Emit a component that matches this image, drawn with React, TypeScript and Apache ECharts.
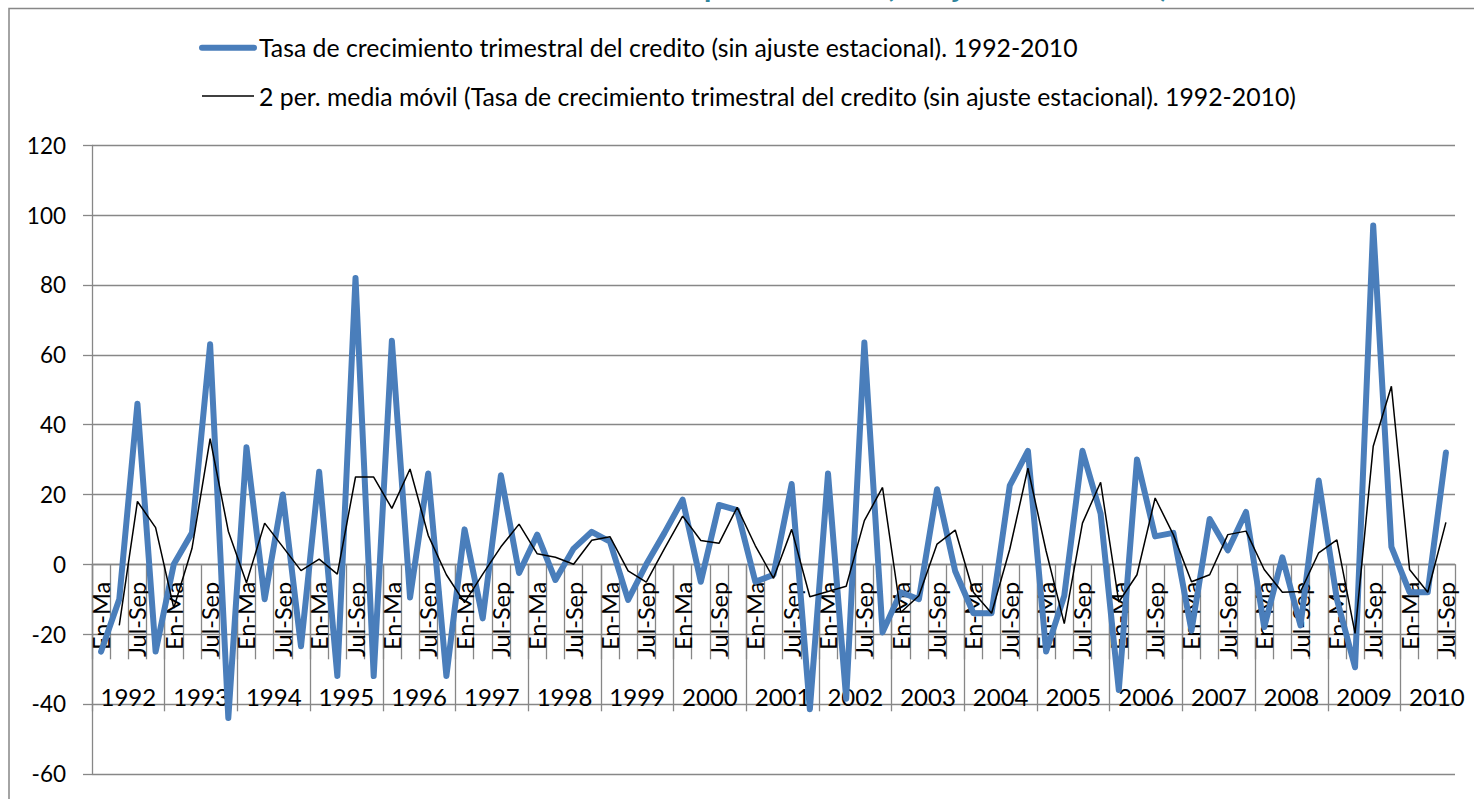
import React, { useEffect, useRef } from "react";
import * as echarts from "echarts";

// ---------- data ----------
const quarterNames = ["En-Ma", "Abr-Jun", "Jul-Sep", "Oct-Dic"];
const years = [
  "1992", "1993", "1994", "1995", "1996", "1997", "1998", "1999", "2000", "2001",
  "2002", "2003", "2004", "2005", "2006", "2007", "2008", "2009", "2010",
];
const quartersPerYear = [4, 4, 4, 4, 4, 4, 4, 4, 4, 4, 4, 4, 4, 4, 4, 4, 4, 4, 3];

const creditGrowth = [
  -25, -10, 46, -25,
  0, 9, 63, -44,
  33.5, -10, 20, -23.5,
  26.5, -32, 82, -32,
  64, -9.5, 26, -32,
  10, -15.5, 25.5, -2.5,
  8.5, -4.5, 4.5, 9.3,
  6.5, -10.2, 0, 9,
  18.5, -5, 17, 15.5,
  -5, -3, 23, -41.5,
  26, -38.5, 63.5, -19.5,
  -8, -10, 21.5, -2,
  -14, -14, 22.5, 32.5,
  -25, -9, 32.5, 14.5,
  -36, 30, 8, 9,
  -19, 13, 4, 15,
  -18, 2, -17.5, 24,
  -10, -29.5, 97, 5,
  -8, -8, 32,
];

const movingAvg = [
  null, -17.5, 18, 10.5,
  -12.5, 4.5, 36, 9.5,
  -5.3, 11.8, 5, -1.8,
  1.5, -2.8, 25, 25,
  16, 27.3, 8.3, -3,
  -11, -2.8, 5, 11.5,
  3, 2, 0, 6.9,
  7.9, -1.9, -5.1, 4.5,
  13.8, 6.8, 6, 16.3,
  5.3, -4, 10, -9.3,
  -7.8, -6.3, 12.5, 22,
  -13.8, -9, 5.8, 9.8,
  -8, -14, 4.3, 27.5,
  3.8, -17, 11.8, 23.5,
  -10.8, -3, 19, 8.5,
  -5, -3, 8.5, 9.5,
  -1.5, -8, -7.8, 3.3,
  7, -19.8, 33.8, 51,
  -1.5, -8, 12,
];

const seriesNames = [
  "Tasa de crecimiento trimestral del credito (sin ajuste estacional). 1992-2010",
  "2 per. media móvil (Tasa de crecimiento trimestral del credito (sin ajuste estacional). 1992-2010)",
];
const titleText = "Tasa de crecimiento del crédito por trimestre (sin ajuste estacional)";

const Y_MIN = -60;
const Y_MAX = 120;
const Y_STEP = 20;

// ---------- layout / style ----------
const W = 1474;
const H = 799;
const GRID_LEFT = 92;
const GRID_RIGHT = 19;
const GRID_TOP = 145.3;
const GRID_BOTTOM = 25.2;
const GRID_H = H - GRID_TOP - GRID_BOTTOM;
const ZERO_FROM_BOTTOM = (GRID_H * (0 - Y_MIN)) / (Y_MAX - Y_MIN);
const GRAY = "#878787";
const FONT = "Lato";

export default function App() {
  const ref = useRef<HTMLDivElement>(null);

  useEffect(() => {
    if (!ref.current) return;
    const chart = echarts.init(ref.current, null, { renderer: "svg" });

    const categories: string[] = [];
    const yearStarts: number[] = [];
    const yearMids: number[] = [];
    let pos = 0;
    years.forEach((y, i) => {
      yearStarts.push(pos);
      yearMids.push(pos + 2);
      for (let q = 0; q < quartersPerYear[i]; q++) categories.push(quarterNames[q]);
      pos += quartersPerYear[i];
    });
    const total = pos;

    const option: any = {
      animation: false,
      backgroundColor: "#ffffff",
      textStyle: { fontFamily: FONT },
      title: {
        text: titleText,
        right: 305,
        top: -30,
        padding: 0,
        textStyle: { fontFamily: FONT, fontSize: 30, fontWeight: "bold", color: "#31859C" },
      },
      legend: {
        orient: "vertical",
        left: 199,
        top: 35.3,
        padding: 0,
        itemWidth: 52,
        itemHeight: 24,
        itemGap: 23.2,
        textStyle: { fontFamily: FONT, fontSize: 24.8, color: "#000", lineHeight: 24 },
        data: [
          {
            name: seriesNames[0],
            lineStyle: { width: 6, color: "#4A7EBB", cap: "round" },
            itemStyle: { opacity: 0, borderWidth: 0 },
          },
          {
            name: seriesNames[1],
            lineStyle: { width: 1.5, color: "#000" },
            itemStyle: { opacity: 0, borderWidth: 0 },
          },
        ],
      },
      graphic: [
        {
          type: "rect",
          silent: true,
          z: -10,
          shape: { x: 9, y: 8.5, width: W + 20, height: H + 20 },
          style: { fill: "none", stroke: GRAY, lineWidth: 1.5 },
        },
      ],
      grid: {
        left: GRID_LEFT,
        right: GRID_RIGHT,
        top: GRID_TOP,
        bottom: GRID_BOTTOM,
        containLabel: false,
        outerBoundsMode: "none",
      },
      xAxis: [
        {
          type: "category",
          data: categories,
          boundaryGap: true,
          position: "bottom",
          offset: -ZERO_FROM_BOTTOM,
          axisLine: { show: true, onZero: false, lineStyle: { color: GRAY, width: 1.3 } },
          axisTick: { show: true, interval: 0, length: 95, lineStyle: { color: GRAY, width: 1.3 } },
          axisLabel: {
            interval: 1,
            rotate: 90,
            margin: 17.5,
            fontSize: 23.5,
            fontFamily: FONT,
            color: "#000",
          },
          splitLine: { show: false },
        },
        {
          type: "value",
          min: 0,
          max: total,
          position: "bottom",
          offset: -ZERO_FROM_BOTTOM,
          axisLine: { show: false, onZero: false },
          axisTick: {
            show: true,
            customValues: yearStarts,
            length: 147,
            lineStyle: { color: GRAY, width: 1.3 },
          },
          axisLabel: {
            show: true,
            customValues: yearMids,
            margin: 120,
            fontSize: 24,
            fontFamily: FONT,
            color: "#000",
            formatter: (v: number) => {
              const idx = yearMids.indexOf(v);
              return idx >= 0 ? years[idx] : "";
            },
          },
          splitLine: { show: false },
        },
      ],
      yAxis: {
        type: "value",
        min: Y_MIN,
        max: Y_MAX,
        interval: Y_STEP,
        axisLine: { show: true, lineStyle: { color: GRAY, width: 1.3 } },
        axisTick: { show: true, length: 9, lineStyle: { color: GRAY, width: 1.3 } },
        axisLabel: { margin: 26, fontSize: 22.5, fontFamily: FONT, color: "#000" },
        splitLine: { show: true, lineStyle: { color: GRAY, width: 1.3 } },
      },
      series: [
        {
          name: seriesNames[0],
          type: "line",
          data: creditGrowth,
          xAxisIndex: 0,
          yAxisIndex: 0,
          symbol: "none",
          z: 2,
          lineStyle: { color: "#4A7EBB", width: 6, cap: "round", join: "round" },
          itemStyle: { color: "#4A7EBB" },
        },
        {
          name: seriesNames[1],
          type: "line",
          data: movingAvg,
          xAxisIndex: 0,
          yAxisIndex: 0,
          symbol: "none",
          z: 3,
          lineStyle: { color: "#000", width: 1.5 },
          itemStyle: { color: "#000" },
        },
      ],
    };

    chart.setOption(option);
    return () => chart.dispose();
  }, []);

  return (
    <div
      ref={ref}
      style={{ position: "absolute", left: 0, top: 0, width: W, height: H, background: "#fff" }}
    />
  );
}
